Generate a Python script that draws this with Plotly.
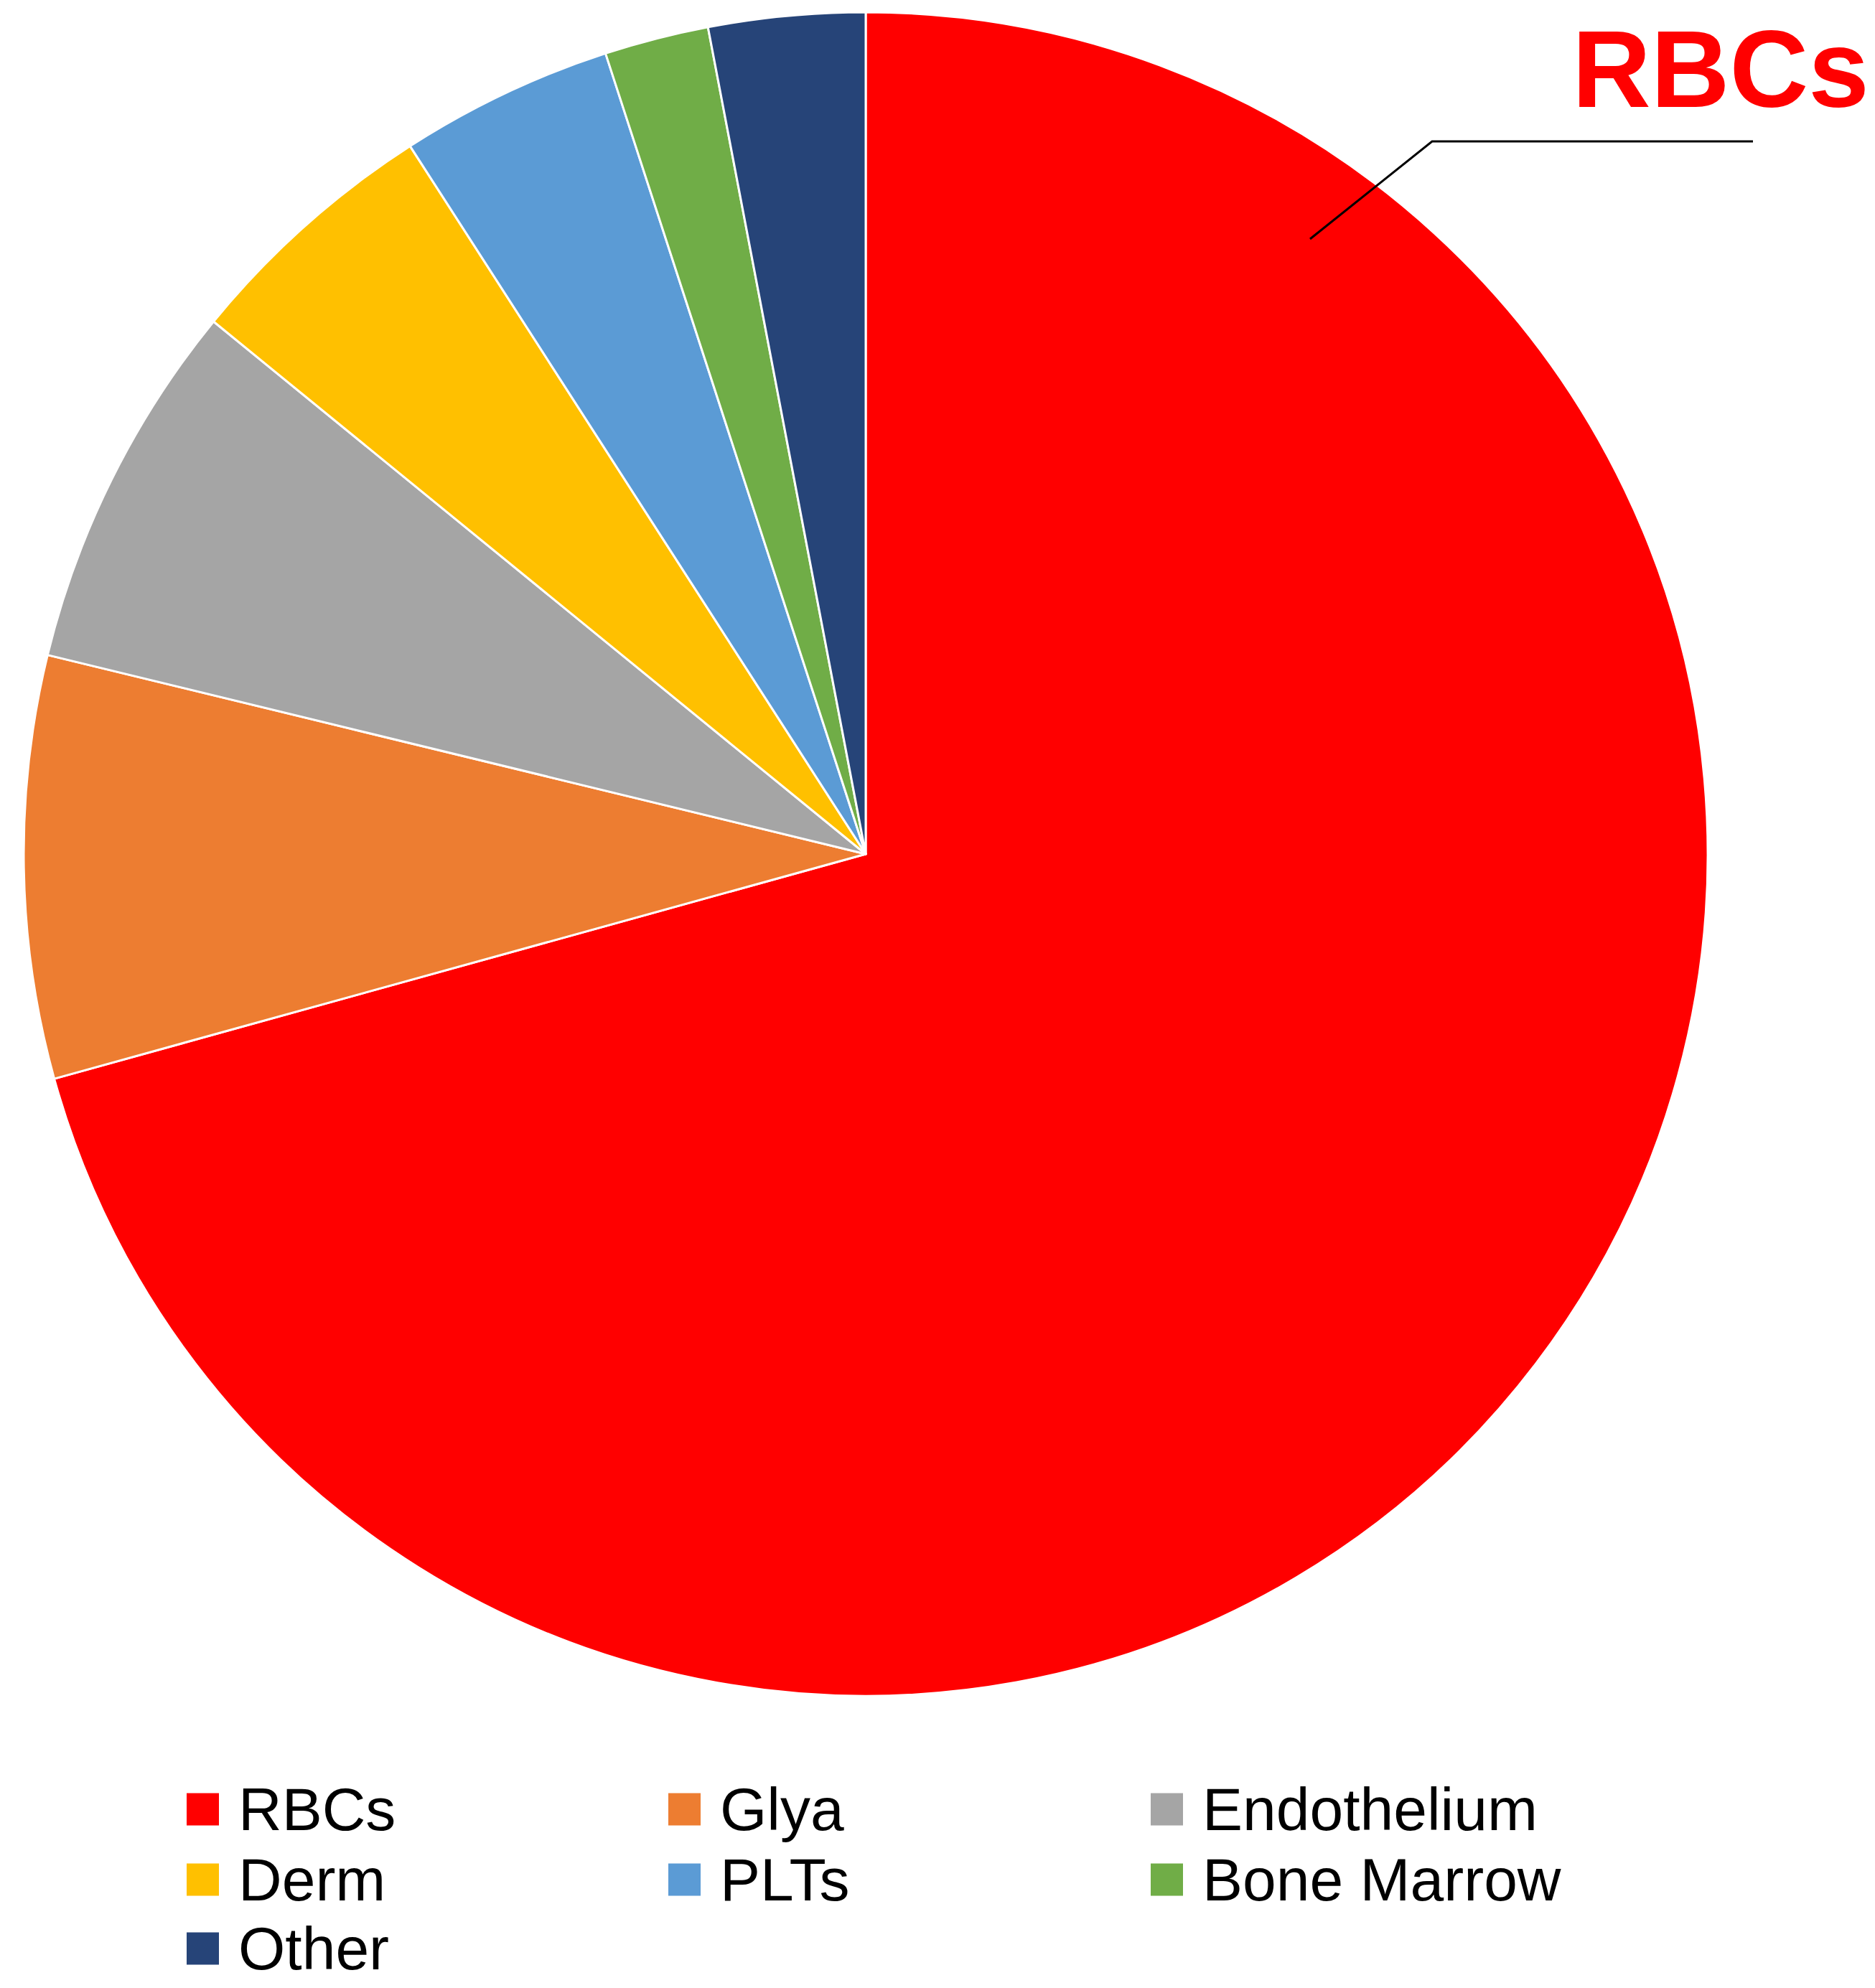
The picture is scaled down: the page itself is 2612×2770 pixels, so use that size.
import plotly.graph_objects as go

W, H = 2612, 2770

categories = ["RBCs", "Glya", "Endothelium", "Derm", "PLTs", "Bone Marrow", "Other"]
values = [70.7, 8.1, 7.1, 5.0, 4.1, 2.0, 3.0]
colors = ["#FF0000", "#ED7D31", "#A5A5A5", "#FFC000", "#5B9BD5", "#70AD47", "#264478"]

FONT = "Liberation Sans, Arial, Helvetica, sans-serif"

def px(x):
    return x / W

def py(y):
    return 1 - y / H

# pie placement (pixels)
cx, cy, r = 1206, 1190, 1173

fig = go.Figure()
fig.add_trace(go.Pie(
    labels=categories,
    values=values,
    sort=False,
    direction="clockwise",
    rotation=0,
    marker=dict(colors=colors, line=dict(color="#FFFFFF", width=3)),
    textinfo="none",
    hoverinfo="label+value",
    showlegend=False,
    domain=dict(x=[px(cx - r), px(cx + r)], y=[py(cy + r), py(cy - r)]),
))

shapes = []
annotations = []

# manual legend (3 columns)
col_x = [260, 931, 1603]
row_y = [2521, 2619, 2715]
msize = 45
for i, (lab, col) in enumerate(zip(categories, colors)):
    c = i % 3
    rrow = i // 3
    x0 = col_x[c]
    yc = row_y[rrow]
    shapes.append(dict(type="rect", xref="paper", yref="paper",
                       x0=px(x0), x1=px(x0 + msize),
                       y0=py(yc + msize / 2), y1=py(yc - msize / 2),
                       fillcolor=col, line=dict(width=0)))
    annotations.append(dict(xref="paper", yref="paper", x=px(x0 + 70), y=py(yc),
                            xanchor="left", yanchor="middle", showarrow=False,
                            text=lab, font=dict(family=FONT, size=84, color="#000000")))

# callout label for RBCs
shapes.append(dict(type="path", xref="paper", yref="paper",
                   path=f"M {px(1825)},{py(333)} L {px(1995)},{py(197)} L {px(2442)},{py(197)}",
                   line=dict(color="#000000", width=3)))
annotations.append(dict(xref="paper", yref="paper", x=px(2606), y=py(96),
                        xanchor="right", yanchor="middle", showarrow=False,
                        text="<b>RBCs</b>",
                        font=dict(family=FONT, size=152, color="#FF0000")))

fig.update_layout(
    width=W, height=H,
    margin=dict(l=0, r=0, t=0, b=0),
    paper_bgcolor="#FFFFFF",
    plot_bgcolor="#FFFFFF",
    shapes=shapes,
    annotations=annotations,
    showlegend=False,
)

fig.write_html("out.html",
               config={"displayModeBar": False},
               post_script="document.body.style.margin='0';document.body.style.overflow='hidden';")
